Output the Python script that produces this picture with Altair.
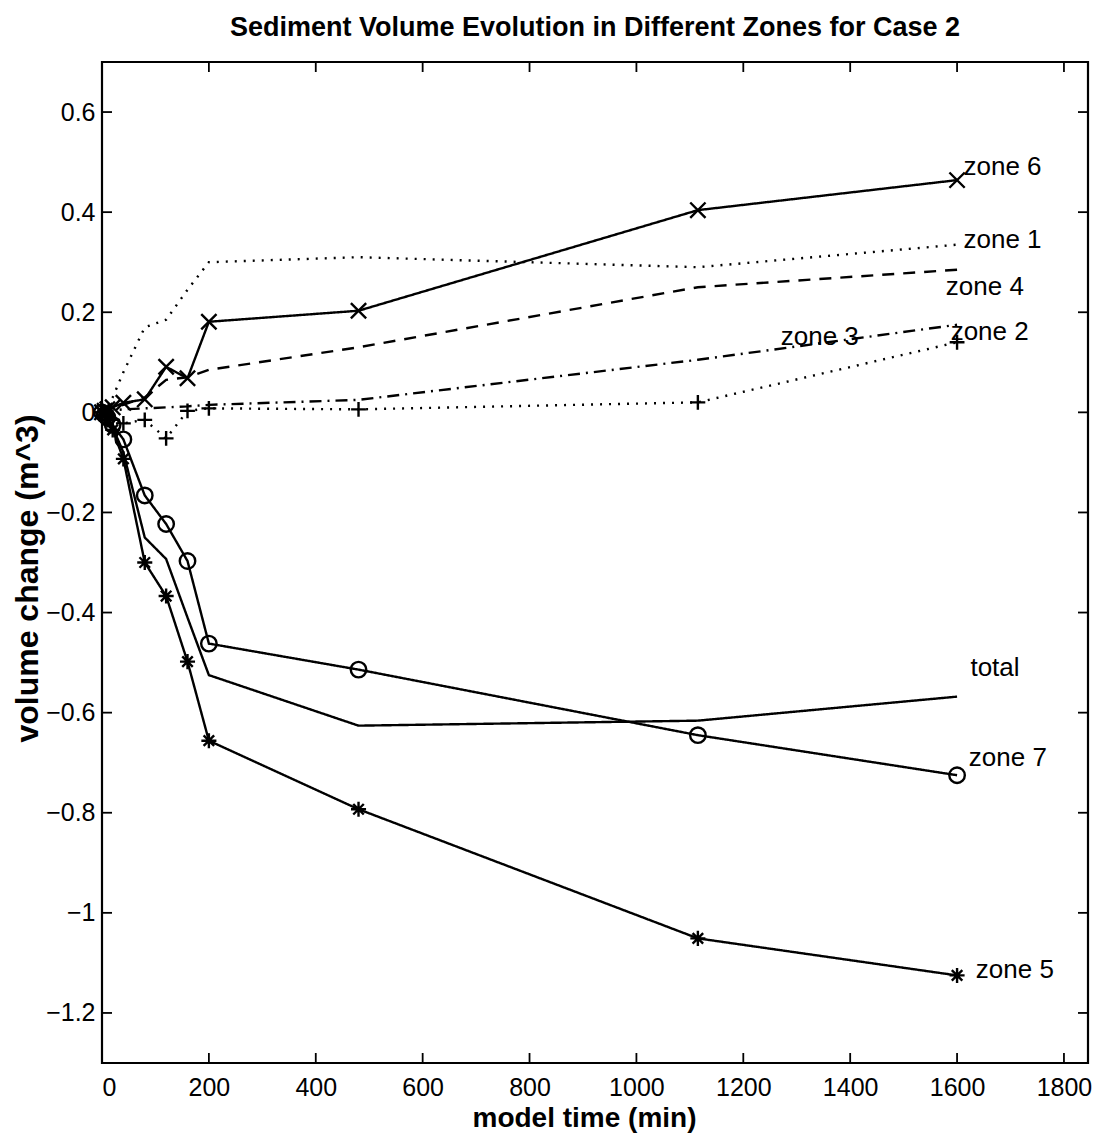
import altair as alt
import pandas as pd

# ---- data ----
time = [0, 5, 10, 20, 40, 80, 120, 160, 200, 480, 1115, 1600]

zone1 = [0, 0.005, 0.01, 0.03, 0.08, 0.17, 0.185, 0.245, 0.30, 0.31, 0.29, 0.335]
zone2 = [0, -0.005, -0.01, -0.015, -0.022, -0.015, -0.052, 0.003, 0.008, 0.006, 0.02, 0.14]
zone3 = [0, 0.0, 0.002, 0.004, 0.006, 0.008, 0.01, 0.012, 0.015, 0.025, 0.105, 0.175]
zone4 = [0, 0.002, 0.005, 0.01, 0.015, 0.03, 0.065, 0.07, 0.085, 0.13, 0.25, 0.285]
zone5 = [0, -0.005, -0.015, -0.035, -0.093, -0.30, -0.367, -0.498, -0.656, -0.793, -1.051, -1.125]
zone6 = [0, 0.003, 0.006, 0.01, 0.019, 0.026, 0.091, 0.068, 0.181, 0.203, 0.404, 0.464]
zone7 = [0, -0.005, -0.01, -0.025, -0.054, -0.166, -0.223, -0.297, -0.462, -0.514, -0.645, -0.725]
total = [0, -0.005, -0.015, -0.03, -0.08, -0.25, -0.293, -0.41, -0.525, -0.626, -0.616, -0.568]

series_names = ["zone 1", "zone 2", "zone 3", "zone 4", "zone 5", "zone 6", "zone 7", "total"]
series_values = [zone1, zone2, zone3, zone4, zone5, zone6, zone7, total]
series_dash = [[2, 7], [2, 7], [12, 6, 2, 6], [12, 9], [1, 0], [1, 0], [1, 0], [1, 0]]

marker_series = ["zone 2", "zone 5", "zone 6", "zone 7"]
marker_shapes = [
    "M-1,0L1,0M0,-1L0,1",
    "M-1,0L1,0M0,-1L0,1M-0.7,-0.7L0.7,0.7M-0.7,0.7L0.7,-0.7",
    "M-1,-1L1,1M-1,1L1,-1",
    "circle",
]
marker_sizes = [220, 240, 320, 180]

label_text = ["zone 6", "zone 1", "zone 4", "zone 3", "zone 2", "total", "zone 7", "zone 5"]
label_x = [1612, 1612, 1579, 1270, 1588, 1625, 1622, 1635]
label_y = [0.49, 0.345, 0.25, 0.15, 0.16, -0.51, -0.69, -1.115]

x_ticks = [0, 200, 400, 600, 800, 1000, 1200, 1400, 1600, 1800]
y_ticks = [-1.2, -1.0, -0.8, -0.6, -0.4, -0.2, 0.0, 0.2, 0.4, 0.6]

X_DOMAIN = [0, 1845]
Y_DOMAIN = [-1.3, 0.7]
W, H = 986, 1001
FONT = "Liberation Sans"

rows = []
for name, vals in zip(series_names, series_values):
    for t, v in zip(time, vals):
        rows.append({"series": name, "time": t, "value": v})
df = pd.DataFrame(rows)
df_markers = df[df["series"].isin(marker_series)]

xs = alt.Scale(domain=X_DOMAIN, nice=False, zero=False)
ys = alt.Scale(domain=Y_DOMAIN, nice=False, zero=False)

x_axis = alt.Axis(values=x_ticks, title="model time (min)", grid=False, format="d",
                  ticks=False, domain=False, labelPadding=12,
                  labelFontSize=25, labelFont=FONT, titleFont=FONT,
                  titleFontSize=28, titleFontWeight="bold", titlePadding=4,
                  titleX=482,
                  labelColor="black", titleColor="black")
y_axis = alt.Axis(values=y_ticks, title="volume change (m^3)", grid=False,
                  ticks=False, domain=False, labelPadding=7, format="~g",
                  labelFontSize=25, labelFont=FONT, titleFont=FONT,
                  titleFontSize=32, titleFontWeight="bold", titlePadding=1,
                  titleY=516,
                  labelColor="black", titleColor="black")

X = lambda: alt.X("time:Q", scale=xs, axis=x_axis)
Y = lambda: alt.Y("value:Q", scale=ys, axis=y_axis)

lines = alt.Chart(df).mark_line(color="black", strokeWidth=2.4).encode(
    x=X(), y=Y(),
    detail="series:N",
    strokeDash=alt.StrokeDash("series:N", scale=alt.Scale(domain=series_names, range=series_dash),
                              legend=None),
)

points = alt.Chart(df_markers).mark_point(filled=False, color="black", strokeWidth=2.4, opacity=1).encode(
    x=X(), y=Y(),
    shape=alt.Shape("series:N", scale=alt.Scale(domain=marker_series, range=marker_shapes), legend=None),
    size=alt.Size("series:N", scale=alt.Scale(domain=marker_series, range=marker_sizes), legend=None),
)

labels_df = pd.DataFrame({"text": label_text, "time": label_x, "value": label_y})
labels = alt.Chart(labels_df).mark_text(align="left", baseline="middle", fontSize=26,
                                        font=FONT, color="black").encode(
    x=X(), y=Y(), text="text:N",
)

xt_df = pd.DataFrame({"time": x_ticks})
yt_df = pd.DataFrame({"value": y_ticks})
tick_len = 10
bottom_ticks = alt.Chart(xt_df).mark_rule(color="black", strokeWidth=1.8).encode(
    x=X(), y=alt.value(H), y2=alt.value(H - tick_len))
top_ticks = alt.Chart(xt_df).mark_rule(color="black", strokeWidth=1.8).encode(
    x=X(), y=alt.value(0), y2=alt.value(tick_len))
left_ticks = alt.Chart(yt_df).mark_rule(color="black", strokeWidth=1.8).encode(
    y=Y(), x=alt.value(0), x2=alt.value(tick_len))
right_ticks = alt.Chart(yt_df).mark_rule(color="black", strokeWidth=1.8).encode(
    y=Y(), x=alt.value(W), x2=alt.value(W - tick_len))

chart = alt.layer(lines, points, labels, bottom_ticks, top_ticks, left_ticks, right_ticks).properties(
    width=W, height=H,
    title=alt.TitleParams("Sediment Volume Evolution in Different Zones for Case 2",
                          fontSize=27, font=FONT, fontWeight="bold", anchor="middle",
                          offset=19, color="black"),
    autosize=alt.AutoSizeParams(type="none"),
    padding={"left": 94, "top": 54, "right": 14, "bottom": 77},
    background="white",
).configure_view(stroke="black", strokeWidth=2.2, strokeOpacity=1)

chart.save("out.html", embed_options={"renderer": "svg", "actions": False})
